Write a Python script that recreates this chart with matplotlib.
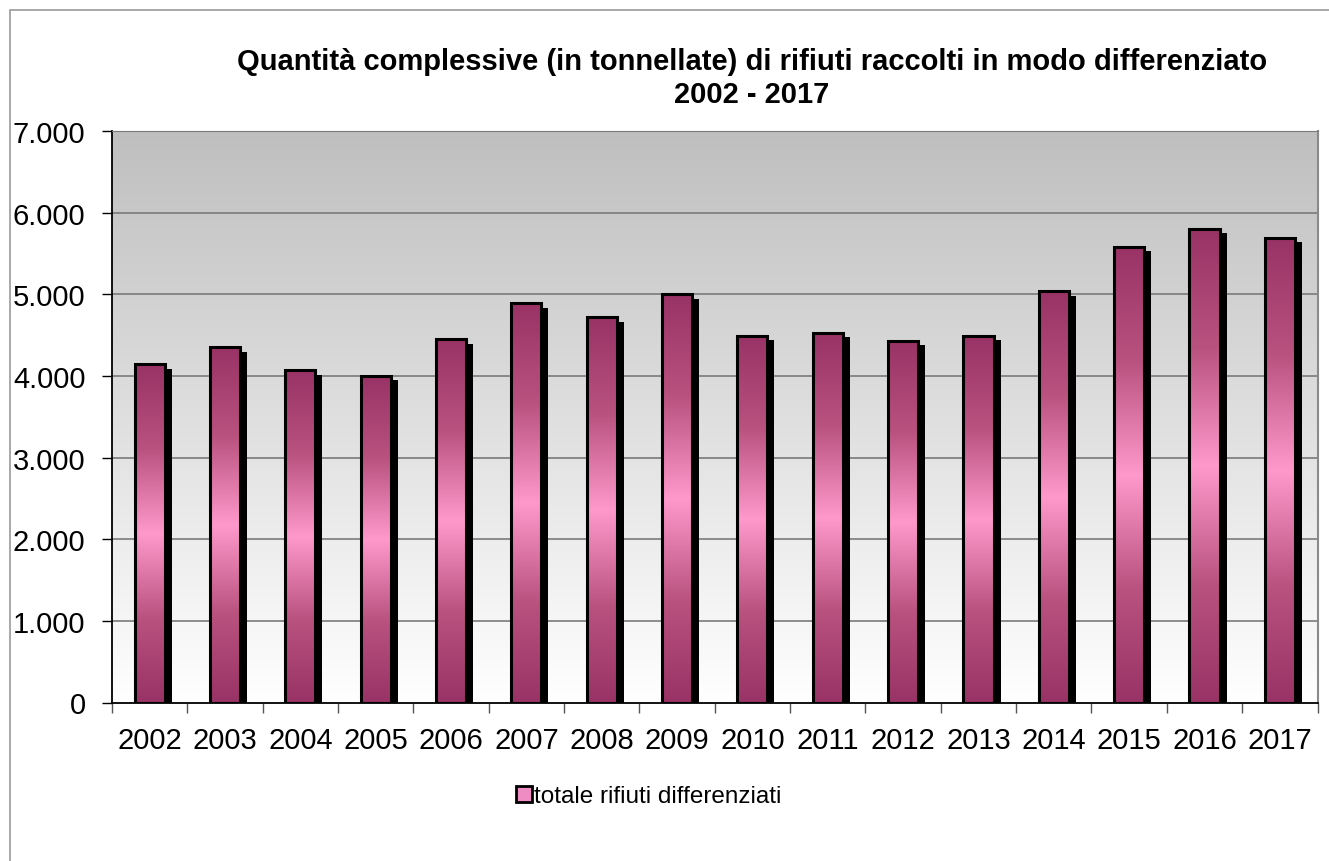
import numpy as np
import matplotlib
matplotlib.use('Agg')
import matplotlib.pyplot as plt
import matplotlib.transforms as mtransforms
from matplotlib.colors import LinearSegmentedColormap
from matplotlib.patches import Rectangle
from matplotlib.lines import Line2D

years = ['2002', '2003', '2004', '2005', '2006', '2007', '2008', '2009',
         '2010', '2011', '2012', '2013', '2014', '2015', '2016', '2017']
totale = [4140, 4350, 4070, 4000, 4450, 4890, 4720, 5000,
          4490, 4530, 4430, 4490, 5040, 5580, 5800, 5690]
yticks = [0, 1000, 2000, 3000, 4000, 5000, 6000, 7000]
ytick_labels = ['0', '1.000', '2.000', '3.000', '4.000', '5.000', '6.000', '7.000']

plt.rcParams['font.family'] = ['Liberation Sans', 'DejaVu Sans']

fig = plt.figure(figsize=(13.29, 8.62), dpi=100)
W, H = 1329, 862
ax = fig.add_axes([112 / W, 1 - 703.5 / H, (1317.5 - 112) / W, (703.5 - 132) / H])

n = len(years)
x = np.arange(n)

# grey to white background
bg = np.linspace(0, 1, 256).reshape(-1, 1)
bg_cmap = LinearSegmentedColormap.from_list('bg', ['#ffffff', '#bfbfbf'])
ax.imshow(bg, cmap=bg_cmap, extent=[-0.5, n - 0.5, 0, 7000], origin='lower',
          aspect='auto', zorder=0)

for t in yticks[1:]:
    ax.axhline(t, color='#7a7a7a', lw=1.2, zorder=1)

width = 0.40
# drop shadow, shifted right and down in pixels
shadow_tr = ax.transData + mtransforms.ScaledTranslation(7 / 100, -4.5 / 100, fig.dpi_scale_trans)
ax.bar(x, totale, width=width, color='black', transform=shadow_tr, zorder=2)

# bars: dark at both ends, light pink in the middle
bar_cmap = LinearSegmentedColormap.from_list(
    'bar', ['#993366', '#b9527f', '#ff99cc', '#b9527f', '#993366'])
grad = np.linspace(0, 1, 256).reshape(-1, 1)
for xi, v in zip(x, totale):
    ax.imshow(grad, cmap=bar_cmap, extent=[xi - width / 2, xi + width / 2, 0, v],
              origin='lower', aspect='auto', zorder=3)
ax.bar(x, totale, width=width, facecolor='none', edgecolor='black', linewidth=2.2,
       zorder=4, label='totale rifiuti differenziati')
ax.set_xlim(-0.5, n - 0.5)
ax.set_ylim(0, 7000)

ax.set_yticks(yticks)
ax.set_yticklabels(ytick_labels, fontsize=21)
ax.set_xticks(x)
ax.set_xticklabels(years, fontsize=21)
ax.set_xticks(np.arange(n + 1) - 0.5, minor=True)
ax.tick_params(axis='x', which='major', length=0, pad=17)
ax.tick_params(axis='x', which='minor', length=7, width=1, color='#555555')
ax.tick_params(axis='y', length=7, width=1, pad=12)

ax.spines['left'].set_color('black')
ax.spines['bottom'].set_color('black')
ax.spines['left'].set_linewidth(1.3)
ax.spines['bottom'].set_linewidth(1.3)
ax.spines['top'].set_color('#7a7a7a')
ax.spines['right'].set_color('#8a8a8a')
ax.spines['right'].set_linewidth(1.5)

fig.text(752 / W, 1 - 62 / H,
         'Quantità complessive (in tonnellate) di rifiuti raccolti in modo differenziato',
         ha='center', va='center', fontsize=21, fontweight='bold')
fig.text(752 / W, 1 - 95 / H, '2002 - 2017',
         ha='center', va='center', fontsize=21, fontweight='bold')

handle = Line2D([], [], marker='s', linestyle='none', markersize=11,
                markerfacecolor='#f08cc4', markeredgecolor='black', markeredgewidth=2)
fig.legend([handle], ['totale rifiuti differenziati'], loc='center',
           bbox_to_anchor=(648 / W, 1 - 797 / H), frameon=False, fontsize=17.5,
           handletextpad=0.0, handlelength=0.8)

# outer chart border
fig.patches.append(Rectangle((10 / W, -0.01), 1.1, 1 - 11 / H + 0.01,
                             transform=fig.transFigure, fill=False,
                             edgecolor='#9a9a9a', linewidth=1.2))

fig.savefig('out.png', dpi=100)
